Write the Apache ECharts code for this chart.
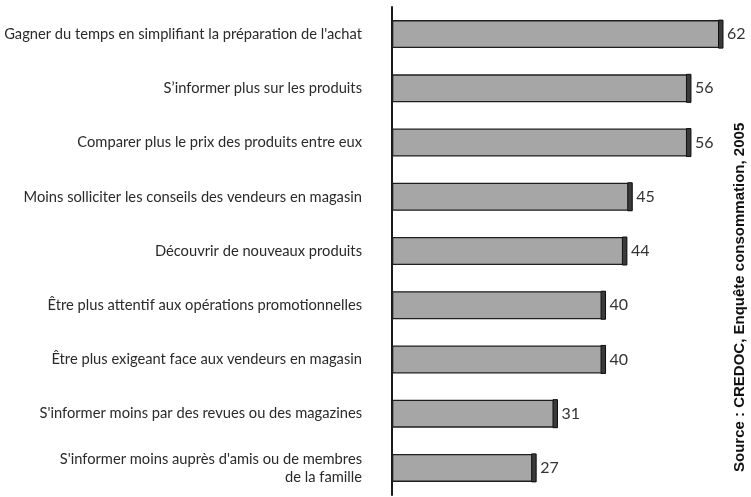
<!DOCTYPE html>
<html>
<head>
<meta charset="utf-8">
<script src="https://cdn.jsdelivr.net/npm/echarts@6/dist/echarts.min.js"></script>
<style>html,body{margin:0;padding:0;background:#fff;}#c{width:751px;height:497px;}</style>
</head>
<body>
<div id="c"></div>
<script>
var categories = [
  "Gagner du temps en simplifiant la préparation de l'achat",
  "S’informer plus sur les produits",
  "Comparer plus le prix des produits entre eux",
  "Moins solliciter les conseils des vendeurs en magasin",
  "Découvrir de nouveaux produits",
  "Être plus attentif aux opérations promotionnelles",
  "Être plus exigeant face aux vendeurs en magasin",
  "S'informer moins par des revues ou des magazines",
  "S'informer moins auprès d'amis ou de membres\nde la famille"
];
var values = [62, 56, 56, 45, 44, 40, 40, 31, 27];
var sourceText = "Source : CREDOC, Enquête consommation, 2005";

var FONT = "Lato, sans-serif";
var chart = echarts.init(document.getElementById('c'));
chart.setOption({
  animation: false,
  grid: { left: 392, top: 7, width: 347, height: 488, containLabel: false, outerBoundsMode: 'none' },
  xAxis: {
    type: 'value', min: 0, max: 65,
    show: false
  },
  yAxis: {
    type: 'category', data: categories, inverse: true,
    axisLine: { show: true, lineStyle: { color: '#1a1a1a', width: 2 } },
    axisTick: { show: false },
    axisLabel: {
      margin: 30, color: '#2a2a2a', fontSize: 14.7, fontFamily: FONT,
      lineHeight: 18, align: 'right'
    }
  },
  series: [
    {
      type: 'bar', data: values, barWidth: 28,
      itemStyle: { color: '#a6a6a6', borderColor: '#1e1e1e', borderWidth: 1.3 },
      label: { show: true, position: 'right', distance: 4, color: '#333', fontSize: 16, fontFamily: FONT }
    },
    {
      type: 'custom', data: values, z: 3,
      renderItem: function (params, api) {
        var end = api.coord([api.value(0), params.dataIndex]);
        var h = 28;
        return {
          type: 'rect',
          shape: { x: end[0] - 4.5, y: end[1] - h / 2, width: 4.5, height: h },
          style: { fill: '#3a3a3a', stroke: '#111', lineWidth: 1 }
        };
      },
      encode: { x: 0, y: -1 }
    }
  ],
  graphic: [{
    type: 'text', x: 740, y: 472, rotation: Math.PI / 2,
    style: { text: sourceText, fill: '#111', font: "bold 15px 'Liberation Sans'", textAlign: 'left', textVerticalAlign: 'middle' }
  }]
});
</script>
</body>
</html>
